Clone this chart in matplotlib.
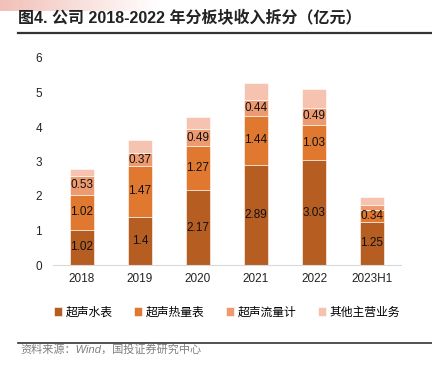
import matplotlib
matplotlib.use("Agg")
import matplotlib.pyplot as plt
import numpy as np
from matplotlib.colors import LinearSegmentedColormap

plt.rcParams['font.family'] = ['Liberation Sans', 'Noto Sans CJK SC', 'DejaVu Sans']

years = ["2018", "2019", "2020", "2021", "2022", "2023H1"]
water_meter = [1.02, 1.40, 2.17, 2.89, 3.03, 1.25]
heat_meter = [1.02, 1.47, 1.27, 1.44, 1.03, 0.34]
flow_meter = [0.53, 0.37, 0.49, 0.44, 0.49, 0.15]
other_biz = [0.22, 0.38, 0.36, 0.50, 0.55, 0.23]
series_names = ["超声水表", "超声热量表", "超声流量计", "其他主营业务"]
colors = ["#B65E22", "#E0782F", "#EE9A70", "#F6C3B1"]

show_labels = [
    [True] * 6,
    [True] * 6,
    [True, True, True, True, True, False],
    [False] * 6,
]

fig = plt.figure(figsize=(4.32, 3.73), dpi=100)

grad_ax = fig.add_axes([0, 1 - 11 / 373, 160 / 432, 11 / 373])
grad = np.linspace(0, 1, 256).reshape(1, -1)
cmap = LinearSegmentedColormap.from_list("g", ["#F2C0B8", "#FFFFFF"])
grad_ax.imshow(grad, aspect="auto", cmap=cmap)
grad_ax.axis("off")

fig.text(18 / 432, 1 - 18 / 373, "图4. 公司 2018-2022 年分板块收入拆分（亿元）",
         fontsize=11.5, fontweight="bold", color="#222222", va="center", ha="left")
fig.add_artist(plt.Line2D([18 / 432, 1.0], [1 - 33 / 373] * 2, color="#333333", lw=1.6))
fig.add_artist(plt.Line2D([18 / 432, 1.0], [1 - 343 / 373] * 2, color="#333333", lw=1.2))
fig.text(20 / 432, 1 - 349 / 373, "资料来源：Wind，国投证券研究中心", fontsize=8,
         style="italic", color="#808080", va="center", ha="left")

ax = fig.add_axes([53 / 432, 1 - 265 / 373, 348 / 432, 207 / 373])
x = np.arange(len(years))
data = [water_meter, heat_meter, flow_meter, other_biz]
bottom = np.zeros(len(years))
for i, (vals, name, c) in enumerate(zip(data, series_names, colors)):
    vals = np.array(vals)
    bars = ax.bar(x, vals, width=0.4, bottom=bottom, color=c, label=name,
                  edgecolor="white", linewidth=0.4)
    for j, b in enumerate(bars):
        if show_labels[i][j]:
            ax.text(b.get_x() + b.get_width() / 2, bottom[j] + vals[j] / 2,
                    f"{vals[j]:g}", ha="center", va="center", fontsize=8.5, color="#111111")
    bottom += vals

ax.set_xlim(-0.5, len(years) - 0.5)
ax.set_ylim(0, 6)
ax.set_yticks(range(0, 7))
ax.set_xticks(x)
ax.set_xticklabels(years)
for s in ["top", "right", "left"]:
    ax.spines[s].set_visible(False)
ax.spines["bottom"].set_color("#D9D9D9")
ax.tick_params(axis="both", length=0, labelsize=8.5, colors="#222222")
ax.tick_params(axis="y", pad=8)
ax.tick_params(axis="x", pad=6)

leg = ax.legend(loc="upper center", bbox_to_anchor=(0.5, -0.15), ncol=4, frameon=False,
                fontsize=8.5, handlelength=0.7, handleheight=0.7, handletextpad=0.3,
                columnspacing=1.8)

fig.savefig("out.png", dpi=100)
